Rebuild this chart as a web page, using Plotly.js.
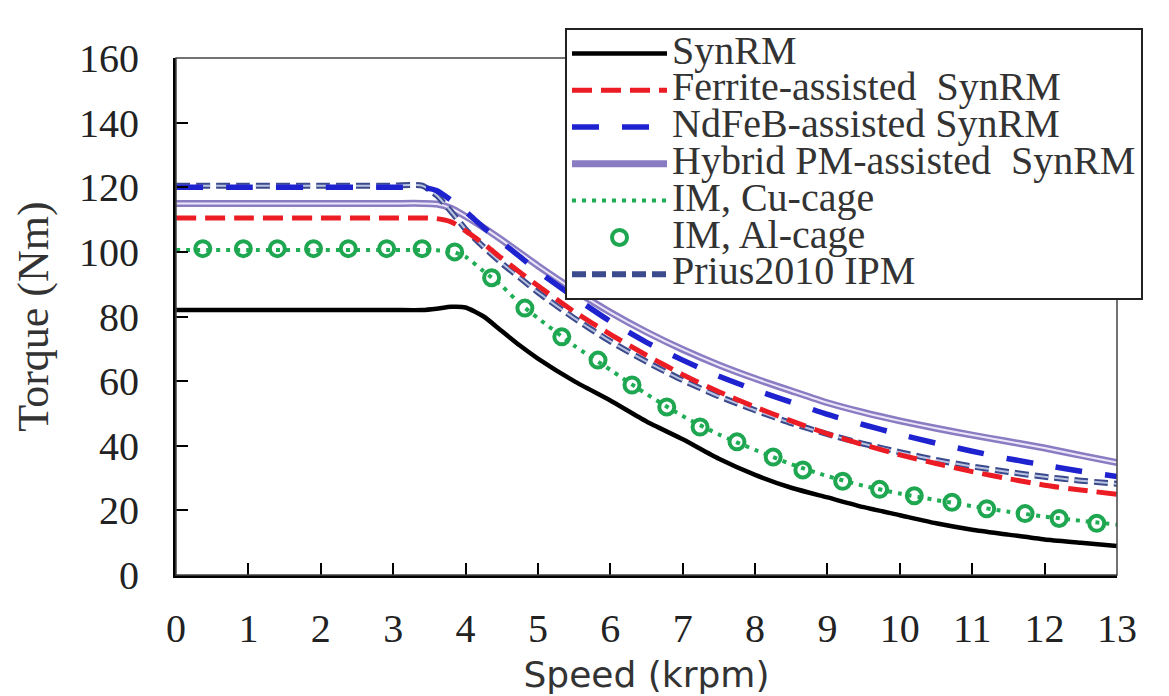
<!DOCTYPE html>
<html>
<head>
<meta charset="utf-8">
<script src="https://cdn.plot.ly/plotly-3.0.1.min.js"></script>
<style>html,body{margin:0;padding:0;background:#fff;}#chart{width:1169px;height:696px;}</style>
</head>
<body>
<div id="chart"></div>
<script>
// Speed grid (krpm)
const speed = [0, 1, 2, 3, 3.4, 3.6, 3.8, 4, 4.25, 4.5, 4.75, 5, 5.5, 6, 6.5, 7, 7.5, 8, 8.5, 9, 9.5, 10, 10.5, 11, 11.5, 12, 12.5, 13];

// Torque (Nm) for each machine
const synRM    = [82, 82, 82, 82, 82, 82.4, 83, 82.8, 80, 75.5, 71, 67, 60, 54, 47.5, 42, 36, 31, 27, 24, 21, 18.5, 16, 14, 12.5, 11, 10, 9];
const ferrite  = [110.5, 110.5, 110.5, 110.5, 110.5, 110.3, 109.3, 106.5, 102.5, 98, 93.7, 89.5, 81.5, 74.5, 68, 62, 56.7, 52, 47.7, 43.7, 40.3, 37.2, 34.5, 32, 29.8, 27.8, 26.3, 25];
const ndfeb    = [120, 120, 120, 120, 120, 119, 116, 112.5, 107.5, 103, 98.5, 94, 86, 78.5, 72, 66.5, 61.5, 57.3, 53.5, 49.7, 46.5, 43.5, 40.8, 38.3, 36, 34, 32.1, 30.5];
const hybrid   = [115, 115, 115, 115, 115, 114.8, 113.5, 111, 107.5, 103.7, 99.7, 95.7, 88.2, 81.3, 75.2, 69.8, 65, 60.8, 57, 53.3, 50.3, 47.7, 45.4, 43.3, 41.3, 39.3, 37, 34.8];
const imCu     = [100.6, 100.6, 100.6, 100.6, 100.6, 100.5, 100.2, 98.5, 94, 89.5, 84, 79.5, 71, 63.5, 56, 49.2, 43.5, 38.7, 34.3, 30.6, 27.6, 25.2, 23.2, 21.3, 19.6, 18.1, 16.8, 15.6];
const prius    = [120.5, 120.5, 120.5, 120.5, 120.5, 117.5, 112.5, 107, 101.5, 96.5, 92, 87.5, 79.5, 72.3, 66, 60.3, 55.3, 51, 47, 43.6, 40.6, 38, 35.6, 33.6, 31.9, 30.4, 29.2, 28.2];

// IM, Al-cage marker points
const alSpeed  = [0.37, 0.93, 1.4, 1.9, 2.38, 2.91, 3.4, 3.85, 4.36, 4.82, 5.33, 5.83, 6.3, 6.78, 7.24, 7.75, 8.25, 8.66, 9.21, 9.72, 10.2, 10.72, 11.2, 11.73, 12.2, 12.72];
const alTorque = [101, 101, 101, 101, 101, 101, 101, 100, 92, 82.6, 73.7, 66.5, 58.8, 52, 45.8, 41.2, 36.5, 32.5, 29, 26.5, 24.5, 22.5, 20.5, 19, 17.5, 16];

const names = ['SynRM', 'Ferrite-assisted  SynRM', 'NdFeB-assisted SynRM', 'Hybrid PM-assisted  SynRM', 'IM, Cu-cage', 'IM, Al-cage', 'Prius2010 IPM'];
const xTicks = [0,1,2,3,4,5,6,7,8,9,10,11,12,13];
const yTicks = [0,20,40,60,80,100,120,140,160];

const lbl = s => '<span style="font-size:40px">' + s + '</span>';
const sp = {shape:'spline', smoothing:0.6};

const traces = [
  {x: speed, y: hybrid, mode:'lines', name: lbl(names[3]), legendrank: 4,
   line: Object.assign({color:'#8a7cc2', width:7}, sp)},
  {x: speed, y: hybrid, mode:'lines', showlegend:false, hoverinfo:'skip',
   line: Object.assign({color:'#ece6f8', width:2}, sp)},
  {x: speed, y: prius, mode:'lines', name: lbl(names[6]), legendrank: 7,
   line: Object.assign({color:'#3b4a8c', width:6, dash:'14px,6px'}, sp)},
  {x: speed, y: prius, mode:'lines', showlegend:false, hoverinfo:'skip',
   line: Object.assign({color:'#b9c3e2', width:2, dash:'14px,6px'}, sp)},
  {x: speed, y: synRM, mode:'lines', name: lbl(names[0]), legendrank: 1,
   line: Object.assign({color:'#000000', width:4.5}, sp)},
  {x: speed, y: ferrite, mode:'lines', name: lbl(names[1]), legendrank: 2,
   line: Object.assign({color:'#ec1c24', width:5, dash:'20px,9px'}, sp)},
  {x: speed, y: ndfeb, mode:'lines', name: lbl(names[2]), legendrank: 3,
   line: Object.assign({color:'#1e22cf', width:5.5, dash:'27px,23px'}, sp)},
  {x: speed, y: imCu, mode:'lines', name: lbl(names[4]), legendrank: 5,
   line: Object.assign({color:'#1fae55', width:4, dash:'4px,6px'}, sp)},
  {x: alSpeed, y: alTorque, mode:'markers', name: lbl(names[5]), legendrank: 6,
   marker: {symbol:'circle-open', size:15, color:'#1fa650', line:{width:4, color:'#1fa650'}}}
];

const layout = {
  width: 1169, height: 696,
  margin: {l:176, r:52, t:58, b:121},
  paper_bgcolor: '#ffffff', plot_bgcolor: '#ffffff',
  showlegend: true,
  legend: {
    x: 0.4134, y: 1.058, xanchor: 'left', yanchor: 'top',
    bgcolor: '#ffffff', bordercolor: '#222222', borderwidth: 2,
    font: {family: 'Liberation Serif', size: 26, color: '#333333'},
    itemwidth: 95, tracegroupgap: 0, traceorder: 'normal'
  },
  xaxis: {
    range: [0, 13], tickmode: 'array', tickvals: xTicks, ticktext: xTicks.map(String),
    ticks: 'inside', ticklen: 12, tickwidth: 2, tickcolor: '#000',
    showline: true, linewidth: 3, linecolor: '#000', showgrid: false, zeroline: false,
    tickfont: {family: 'Liberation Serif', size: 40, color: '#222'},
    ticklabelstandoff: 16,
    title: {text: 'Speed (krpm)', font: {family: 'DejaVu Sans', size: 36, color: '#333'}, standoff: 12},
    automargin: false
  },
  yaxis: {
    range: [0, 160], tickmode: 'array', tickvals: yTicks, ticktext: yTicks.map(String),
    ticks: 'inside', ticklen: 12, tickwidth: 2, tickcolor: '#000',
    showline: true, linewidth: 3, linecolor: '#000', showgrid: false, zeroline: false,
    tickfont: {family: 'Liberation Serif', size: 40, color: '#222'},
    ticklabelstandoff: 26,
    title: {text: 'Torque (Nm)', font: {family: 'Liberation Serif', size: 44, color: '#333'}, standoff: 17},
    automargin: false
  },
  shapes: [
    {type:'rect', xref:'paper', yref:'paper', x0:0, x1:1, y0:0, y1:1,
     line:{color:'#444', width:1.5}, layer:'above'}
  ]
};

Plotly.newPlot('chart', traces, layout, {displayModeBar: false, staticPlot: true});
</script>
</body>
</html>
